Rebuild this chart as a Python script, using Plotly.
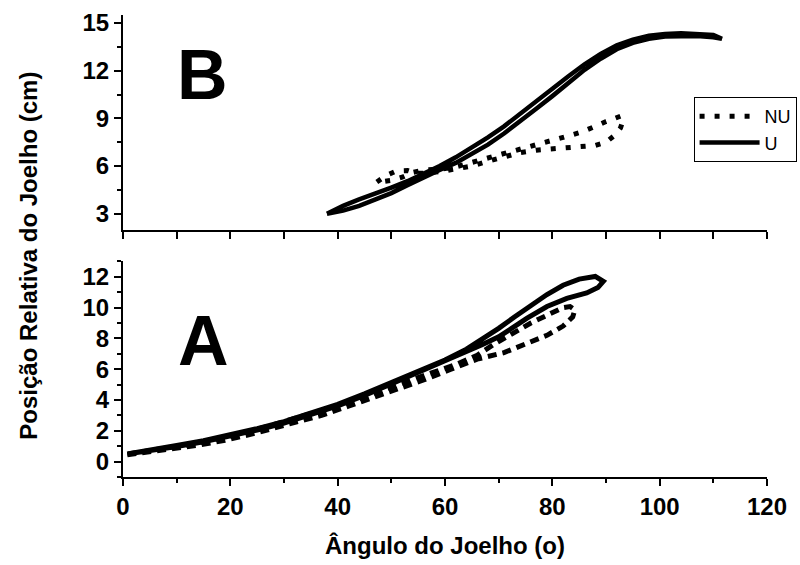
import plotly.graph_objects as go

# ---- Panel B (top): knee angle vs relative knee position ----
b_u_angle = [38.0, 41, 44, 47, 50, 53, 56, 59, 62, 65, 68, 71, 74, 77, 80, 83, 86, 89, 92, 95, 98,
             101, 104, 107, 110, 111.6,
             110, 107, 104, 101, 98, 95, 92, 89, 86, 83, 80, 77, 74, 71, 68, 65, 62, 59, 56, 53,
             50, 47, 44, 41, 39, 38.0]
b_u_pos = [3.0, 3.2, 3.5, 3.9, 4.3, 4.8, 5.3, 5.75, 6.2, 6.8, 7.35, 8.05, 8.8, 9.6, 10.4, 11.25,
           12.05, 12.75, 13.35, 13.75, 14.0, 14.15, 14.2, 14.18, 14.1, 14.0,
           14.25, 14.32, 14.35, 14.3, 14.2, 13.95, 13.6, 13.05, 12.4, 11.65, 10.85, 10.05, 9.25,
           8.5, 7.8, 7.15, 6.55, 6.0, 5.5, 5.05, 4.65, 4.3, 3.9, 3.5, 3.2, 3.0]

b_nu_angle = [47.3, 49, 51, 53, 54.5, 56, 59, 62, 65, 68, 71, 74, 77, 80, 83, 86, 88, 90, 91.5,
              92.7, 93.2, 92.8, 91.5, 90, 88, 85.5, 83, 80, 77, 74, 71, 68, 65, 62, 59, 56, 54,
              52, 50, 48]
b_nu_pos = [5.0, 5.4, 5.7, 5.72, 5.55, 5.55, 5.65, 5.8, 6.0, 6.3, 6.6, 6.85, 7.0, 7.07, 7.12,
            7.2, 7.3, 7.5, 7.9, 8.4, 8.9, 9.15, 9.0, 8.8, 8.5, 8.15, 7.9, 7.62, 7.3, 7.0, 6.75,
            6.5, 6.2, 5.95, 5.8, 5.75, 5.6, 5.3, 5.1, 5.0]

# ---- Panel A (bottom) ----
a_u_angle = [0.8, 3, 6, 10, 15, 20, 25, 30, 35, 40, 45, 50, 55, 60, 64, 67, 70, 73, 76, 79, 82,
             85, 88, 89.5, 88.5, 86.4, 82.7, 79, 75.3, 72.2, 70, 67, 64, 60, 55, 50, 45, 40, 35,
             30, 25, 20, 15, 10, 6, 3, 1]
a_u_pos = [0.5, 0.65, 0.82, 1.05, 1.36, 1.72, 2.14, 2.6, 3.12, 3.72, 4.4, 5.12, 5.85, 6.6, 7.3,
           7.95, 8.65, 9.4, 10.15, 10.85, 11.45, 11.85, 12.02, 11.7, 11.3, 10.95, 10.6, 10.07,
           9.31, 8.55, 8.1, 7.6, 7.15, 6.5, 5.75, 5.0, 4.3, 3.62, 3.02, 2.5, 2.05, 1.64, 1.28,
           0.98, 0.75, 0.6, 0.5]

a_nu_angle = [0.8, 3, 6, 9, 14, 19, 25, 31, 37, 42, 47, 52, 56, 61, 66, 71, 75, 79, 82, 83.8,
              84.2, 83.3, 82, 79.5, 76, 72, 69, 66, 62, 57, 52, 47, 42, 36, 30, 24, 18, 12, 6, 1]
a_nu_pos = [0.45, 0.55, 0.7, 0.85, 1.07, 1.38, 1.87, 2.45, 3.0, 3.6, 4.2, 4.75, 5.3, 5.98, 6.65,
            7.08, 7.6, 8.2, 8.8, 9.4, 9.85, 10.07, 10.0, 9.6, 9.0, 8.2, 7.6, 6.9, 6.3, 5.7, 5.05,
            4.45, 3.85, 3.2, 2.6, 2.0, 1.5, 1.1, 0.75, 0.5]

series_names = ["NU", "U"]
x_ticks = [0, 20, 40, 60, 80, 100, 120]
b_y_ticks = [3, 6, 9, 12, 15]
a_y_ticks = [0, 2, 4, 6, 8, 10, 12]

FONT = "Liberation Sans"
BLACK = "#000000"

fig = go.Figure()

fig.add_trace(go.Scatter(x=b_nu_angle, y=b_nu_pos, mode="lines", name=series_names[0],
                         line=dict(color=BLACK, width=5, dash="5px,10px"),
                         xaxis="x", yaxis="y", showlegend=True))
fig.add_trace(go.Scatter(x=b_u_angle, y=b_u_pos, mode="lines", name=series_names[1],
                         line=dict(color=BLACK, width=4.5),
                         xaxis="x", yaxis="y", showlegend=True))
fig.add_trace(go.Scatter(x=a_nu_angle, y=a_nu_pos, mode="lines", name=series_names[0],
                         line=dict(color=BLACK, width=5, dash="9px,6px"),
                         xaxis="x2", yaxis="y2", showlegend=False))
fig.add_trace(go.Scatter(x=a_u_angle, y=a_u_pos, mode="lines", name=series_names[1],
                         line=dict(color=BLACK, width=5),
                         xaxis="x2", yaxis="y2", showlegend=False))

tick_font = dict(family=FONT, size=24, color=BLACK, weight="bold")
axis_common = dict(showline=True, linecolor=BLACK, linewidth=2, ticks="outside",
                   tickcolor=BLACK, tickwidth=2, ticklen=7, showgrid=False, zeroline=False,
                   tickfont=tick_font)

fig.update_layout(
    width=800, height=565,
    margin=dict(l=123, r=33, t=15, b=88, autoexpand=False),
    paper_bgcolor="white", plot_bgcolor="white",
    font=dict(family=FONT, color=BLACK),
    xaxis=dict(domain=[0, 1], anchor="y", range=[0, 120], tick0=0, dtick=10,
               showticklabels=False, **axis_common),
    yaxis=dict(domain=[0.5353, 1], anchor="x", range=[2, 15.5], tickvals=b_y_ticks,
               minor=dict(dtick=1.5, tick0=0, ticks="outside", ticklen=4, tickwidth=2,
                          tickcolor=BLACK), **axis_common),
    xaxis2=dict(domain=[0, 1], anchor="y2", range=[0, 120], tickvals=x_ticks,
                minor=dict(dtick=10, tick0=0, ticks="outside", ticklen=4, tickwidth=2,
                           tickcolor=BLACK), **axis_common),
    yaxis2=dict(domain=[0, 0.4667], anchor="x2", range=[-1, 13], tickvals=a_y_ticks,
                minor=dict(dtick=1, tick0=0, ticks="outside", ticklen=4, tickwidth=2,
                           tickcolor=BLACK), **axis_common),
    showlegend=True,
    legend=dict(x=0.886, y=0.8225, xanchor="left", yanchor="top", xref="paper", yref="paper",
                bordercolor=BLACK, borderwidth=1, bgcolor="white", itemwidth=60,
                font=dict(family=FONT, size=18, color=BLACK), tracegroupgap=0),
    annotations=[
        dict(text="B", x=9.7, y=11.75, xref="x", yref="y", showarrow=False, xanchor="left",
             yanchor="middle", font=dict(family=FONT, size=70, color=BLACK, weight="bold")),
        dict(text="A", x=9.8, y=7.82, xref="x2", yref="y2", showarrow=False, xanchor="left",
             yanchor="middle", font=dict(family=FONT, size=70, color=BLACK, weight="bold")),
        dict(text="Posição Relativa do Joelho (cm)", x=-0.146, y=0.479, xref="paper",
             yref="paper", textangle=-90, showarrow=False, xanchor="center", yanchor="middle",
             font=dict(family=FONT, size=24, color=BLACK, weight="bold")),
        dict(text="Ângulo do Joelho (o)", x=0.5, y=-0.1487, xref="paper", yref="paper",
             showarrow=False, xanchor="center", yanchor="middle",
             font=dict(family=FONT, size=24, color=BLACK, weight="bold")),
    ],
)

fig.write_html("out.html")
